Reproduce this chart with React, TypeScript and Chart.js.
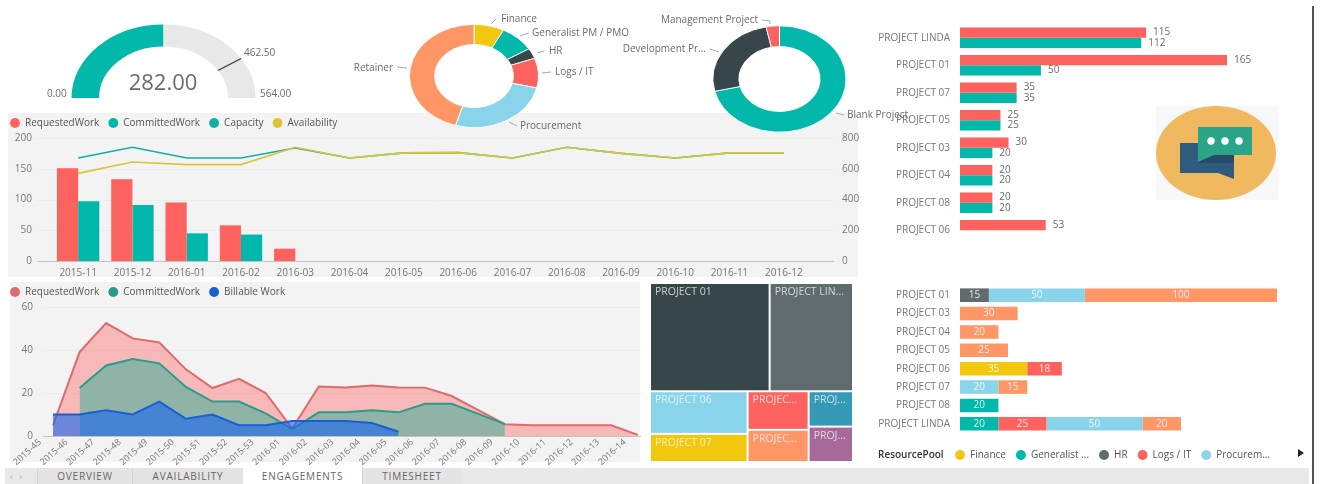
import React, { useEffect, useRef } from "react";
import { Chart, registerables } from "chart.js";

Chart.register(...registerables);
Chart.defaults.font.family = '"Open Sans", sans-serif';
Chart.defaults.font.size = 10;
Chart.defaults.color = "#777";

const TEAL = "#01B8AA";
const DARK = "#374649";
const RED = "#FD625E";
const YELLOW = "#F2C80F";
const GRAY = "#5F6B6D";
const SKY = "#8AD4EB";
const ORANGE = "#FE9666";
const PURPLE = "#A66999";
const BLUE = "#3599B8";

// gauge
const gaugeValue = 282;
const gaugeMax = 564;
const gaugeTarget = 462.5;

// resource pool donut
const poolNames = ["Finance", "Generalist PM / PMO", "HR", "Logs / IT", "Procurement", "Retainer"];
const poolValues = [35, 40, 15, 43, 120, 210];

// project type donut
const typeNames = ["Blank Project", "Development Pr...", "Management Project"];
const typeValues = [330, 118, 15];

// monthly combo chart
const months = ["2015-11", "2015-12", "2016-01", "2016-02", "2016-03", "2016-04", "2016-05", "2016-06", "2016-07", "2016-08", "2016-09", "2016-10", "2016-11", "2016-12"];
const monthRequested = [151, 133, 95, 58, 20, null, null, null, null, null, null, null, null, null];
const monthCommitted = [97, 91, 45, 43, null, null, null, null, null, null, null, null, null, null];
const monthCapacity = [670, 740, 670, 670, 735, 670, 703, 705, 670, 740, 700, 670, 703, 703];
const monthAvailability = [570, 644, 627, 627, 740, 670, 703, 705, 670, 740, 700, 670, 703, 703];

// weekly area chart
const weeks = ["2015-45", "2015-46", "2015-47", "2015-48", "2015-49", "2015-50", "2015-51", "2015-52", "2015-53", "2016-01", "2016-02", "2016-03", "2016-04", "2016-05", "2016-06", "2016-07", "2016-08", "2016-09", "2016-10", "2016-11", "2016-12", "2016-13", "2016-14"];
const weekRequested = [5, 39, 52.5, 45.4, 43.5, 31, 22.3, 26.6, 20, 3.5, 23, 22.6, 23.5, 22.6, 22.5, 18.6, 12, 5.5, 5, 5, 5, 5, 0.5];
const weekCommitted = [null, 22.3, 32.8, 35.8, 33.8, 22.8, 16, 16, 10.5, 3.2, 11, 11, 12, 11, 15, 15, 10.3, 5.5, null, null, null, null, null];
const weekBillable = [10, 10, 12, 10, 16, 8, 10, 5, 5, 7, 7, 7, 6, 2, null, null, null, null, null, null, null, null, null];

// treemap: rows > columns > tiles
const treeRows = [[[165], [115]], [[53, 35], [30, 25], [20, 20]]];
const treeLabels = ["PROJECT 01", "PROJECT LIN...", "PROJECT 06", "PROJECT 07", "PROJEC...", "PROJEC...", "PROJ...", "PROJ..."];
const treeColors = [DARK, GRAY, SKY, YELLOW, RED, ORANGE, BLUE, PURPLE];

// requested vs committed per project
const projectsA = ["PROJECT LINDA", "PROJECT 01", "PROJECT 07", "PROJECT 05", "PROJECT 03", "PROJECT 04", "PROJECT 08", "PROJECT 06"];
const projectRequested = [115, 165, 35, 25, 30, 20, 20, 53];
const projectCommitted = [112, 50, 35, 25, 20, 20, 20, null];

// resource pool per project
const projectsB = ["PROJECT 01", "PROJECT 03", "PROJECT 04", "PROJECT 05", "PROJECT 06", "PROJECT 07", "PROJECT 08", "PROJECT LINDA"];
const stackFinance = [null, null, null, null, 35, null, null, null];
const stackGeneralist = [null, null, null, null, null, null, 20, 20];
const stackHR = [15, null, null, null, null, null, null, null];
const stackLogs = [null, null, null, null, 18, null, null, 25];
const stackProcurement = [50, null, null, null, null, 20, null, 50];
const stackRetainer = [100, 30, 20, 25, null, 15, null, 20];

const tabs = ["OVERVIEW", "AVAILABILITY", "ENGAGEMENTS", "TIMESHEET"];

const SQUASH = 0.8;
const TEXT = "#6b6b6b";
const FONT = '"Open Sans", sans-serif';

type Label = { text: string; x: number; y: number; align?: CanvasTextAlign; size?: number; leader?: number[] };

const squashPlugin = (after?: (chart: any) => void) => ({
  id: "squash",
  beforeDatasetsDraw(chart: any) {
    const a = chart.getDatasetMeta(0).data[0];
    const c = chart.ctx;
    c.save();
    c.translate(a.x, a.y);
    c.scale(1, SQUASH);
    c.translate(-a.x, -a.y);
  },
  afterDatasetsDraw(chart: any) {
    if (after) after(chart);
    chart.ctx.restore();
  },
});

const textPlugin = (labels: Label[]) => ({
  id: "texts",
  afterDraw(chart: any) {
    const c = chart.ctx;
    c.save();
    c.textBaseline = "middle";
    for (const l of labels) {
      if (l.leader) {
        c.beginPath();
        c.strokeStyle = "#aaa";
        c.lineWidth = 1;
        for (let i = 0; i < l.leader.length; i += 2) {
          if (i === 0) c.moveTo(l.leader[0], l.leader[1]);
          else c.lineTo(l.leader[i], l.leader[i + 1]);
        }
        c.stroke();
      }
      c.fillStyle = TEXT;
      c.textAlign = l.align || "left";
      c.font = `${l.size || 10}px ${FONT}`;
      c.fillText(l.text, l.x, l.y);
    }
    c.restore();
  },
});

const gridPlugin = (scaleId: string, x0: number, x1: number) => ({
  id: "extGrid",
  beforeDatasetsDraw(chart: any) {
    const c = chart.ctx;
    const s = chart.scales[scaleId];
    c.save();
    s.ticks.forEach((t: any) => {
      const y = Math.round(s.getPixelForValue(t.value)) + 0.5;
      c.strokeStyle = t.value === 0 ? "#c4c4c4" : "#ececec";
      c.lineWidth = 1;
      c.beginPath();
      c.moveTo(x0, y);
      c.lineTo(x1, y);
      c.stroke();
    });
    c.restore();
  },
});

const barValuePlugin = {
  id: "barValues",
  afterDatasetsDraw(chart: any) {
    const c = chart.ctx;
    c.save();
    c.font = `10px ${FONT}`;
    c.textBaseline = "middle";
    c.textAlign = "left";
    c.fillStyle = TEXT;
    chart.data.datasets.forEach((d: any, i: number) => {
      chart.getDatasetMeta(i).data.forEach((b: any, j: number) => {
        if (d.data[j] != null) c.fillText(String(d.data[j]), b.x + 7, b.y);
      });
    });
    c.restore();
  },
};

const stackValuePlugin = {
  id: "stackValues",
  afterDatasetsDraw(chart: any) {
    const c = chart.ctx;
    c.save();
    c.font = `10px ${FONT}`;
    c.textBaseline = "middle";
    c.textAlign = "center";
    c.fillStyle = "rgba(255,255,255,0.85)";
    chart.data.datasets.forEach((d: any, i: number) => {
      chart.getDatasetMeta(i).data.forEach((b: any, j: number) => {
        if (d.data[j] != null) c.fillText(String(d.data[j]), (b.x + b.base) / 2, b.y);
      });
    });
    c.restore();
  },
};

const legendShiftPlugin = (left: number) => ({
  id: "legendShift",
  beforeDraw(chart: any) {
    chart.legend.left = left;
    chart.legend.right = chart.width;
  },
});

const treemapPlugin = {
  id: "treemap",
  afterDatasetsDraw(chart: any) {
    const c = chart.ctx;
    const { x, y } = chart.scales;
    const sum = (a: any[]): number => a.reduce((t, v) => t + (Array.isArray(v) ? sum(v) : v), 0);
    const total = sum(treeRows);
    let yAt = 0;
    let k = 0;
    c.save();
    c.textBaseline = "middle";
    c.font = `10.5px ${FONT}`;
    for (const row of treeRows) {
      const rowShare = sum(row) / total;
      let xAt = 0;
      for (const col of row) {
        const colShare = sum(col) / sum(row);
        let tileY = yAt;
        for (const v of col) {
          const h = rowShare * (v / sum(col));
          const px0 = x.getPixelForValue(xAt);
          const px1 = x.getPixelForValue(xAt + colShare);
          const py0 = y.getPixelForValue(tileY);
          const py1 = y.getPixelForValue(tileY + h);
          c.fillStyle = treeColors[k];
          c.fillRect(px0 + 1, py0 + 1, px1 - px0 - 2, py1 - py0 - 2);
          c.fillStyle = "rgba(255,255,255,0.72)";
          c.fillText(treeLabels[k], px0 + 5, py0 + 9);
          tileY += h;
          k++;
        }
        xAt += colShare;
      }
      yAt += rowShare;
    }
    c.restore();
  },
};

const noPlugins = { legend: { display: false }, tooltip: { enabled: false } };

const solidLegend = (boxPad: number) => ({
  align: "start" as const,
  labels: {
    usePointStyle: true,
    pointStyle: "circle",
    boxHeight: 7,
    padding: boxPad,
    color: "#555",
    font: { size: 10 },
    sort: (a: any, b: any) => a.datasetIndex - b.datasetIndex,
    generateLabels(chart: any) {
      return Chart.defaults.plugins.legend.labels.generateLabels(chart).map((i: any) => ({
        ...i,
        fillStyle: i.strokeStyle,
        lineWidth: 0,
        pointStyle: "circle",
      }));
    },
  },
});

function gaugeConfig(): any {
  const needle = (chart: any) => {
    const a = chart.getDatasetMeta(0).data[0];
    const angle = -Math.PI + Math.PI * (gaugeTarget / gaugeMax);
    const c = chart.ctx;
    c.strokeStyle = "#444";
    c.lineWidth = 1.5;
    c.beginPath();
    c.moveTo(a.x + a.innerRadius * Math.cos(angle), a.y + a.innerRadius * Math.sin(angle));
    c.lineTo(a.x + a.outerRadius * Math.cos(angle), a.y + a.outerRadius * Math.sin(angle));
    c.stroke();
  };
  return {
    type: "doughnut",
    data: {
      labels: ["Value", "Remaining"],
      datasets: [{ data: [gaugeValue, gaugeMax - gaugeValue], backgroundColor: [TEAL, "#E8E8E8"], borderWidth: 0 }],
    },
    options: {
      animation: false,
      responsive: false,
      rotation: -90,
      circumference: 180,
      cutout: "70%",
      layout: { padding: { left: 71.5, right: 1064.5, top: 6, bottom: 62 } },
      plugins: noPlugins,
    },
    plugins: [
      squashPlugin(needle),
      textPlugin([
        { text: "0.00", x: 47, y: 94 },
        { text: "564.00", x: 260, y: 94 },
        { text: "462.50", x: 244, y: 53 },
        { text: String(gaugeValue.toFixed(2)), x: 163, y: 84, align: "center", size: 22 },
      ]),
    ],
  };
}

function poolConfig(): any {
  return {
    type: "doughnut",
    data: {
      labels: poolNames,
      datasets: [{ data: poolValues, backgroundColor: [YELLOW, TEAL, DARK, RED, SKY, ORANGE], borderColor: "#fff", borderWidth: 1 }],
    },
    options: {
      animation: false,
      responsive: false,
      cutout: "61%",
      layout: { padding: { left: 409, right: 781, top: 11, bottom: 19 } },
      plugins: noPlugins,
    },
    plugins: [
      squashPlugin(),
      textPlugin([
        { text: poolNames[0], x: 501, y: 19, leader: [496, 19, 491, 24] },
        { text: poolNames[1], x: 532, y: 33, leader: [529, 33, 520, 36] },
        { text: poolNames[2], x: 549, y: 51, leader: [544, 51, 537, 53] },
        { text: poolNames[3], x: 555, y: 72, leader: [551, 72, 542, 73] },
        { text: poolNames[4], x: 520, y: 126, leader: [517, 126, 509, 122] },
        { text: poolNames[5], x: 393, y: 68, align: "right", leader: [407, 68, 397, 67] },
      ]),
    ],
  };
}

function typeConfig(): any {
  return {
    type: "doughnut",
    data: {
      labels: typeNames,
      datasets: [{ data: typeValues, backgroundColor: [TEAL, DARK, RED], borderColor: "#fff", borderWidth: 1 }],
    },
    options: {
      animation: false,
      responsive: false,
      cutout: "61%",
      layout: { padding: { left: 712.5, right: 473.5, top: 12, bottom: 14 } },
      plugins: noPlugins,
    },
    plugins: [
      squashPlugin(),
      textPlugin([
        { text: typeNames[0], x: 847, y: 115, leader: [836, 113, 844, 115] },
        { text: typeNames[1], x: 706, y: 49, align: "right", leader: [710, 49, 719, 52] },
        { text: typeNames[2], x: 758, y: 20, align: "right", leader: [762, 20, 770, 21, 770, 24] },
      ]),
    ],
  };
}

function comboConfig(): any {
  const bar = (label: string, data: any[], color: string) => ({ type: "bar", label, data, backgroundColor: color, borderColor: color, yAxisID: "y", order: 3, categoryPercentage: 0.78, barPercentage: 1 });
  const line = (label: string, data: any[], color: string, order: number) => ({ type: "line", label, data, borderColor: color, backgroundColor: color, borderWidth: 1.6, pointRadius: 0, tension: 0, yAxisID: "y1", order });
  return {
    type: "bar",
    data: {
      labels: months,
      datasets: [
        bar("RequestedWork", monthRequested, RED),
        bar("CommittedWork", monthCommitted, TEAL),
        line("Capacity", monthCapacity, "#12B0A0", 2),
        line("Availability", monthAvailability, "#DCC436", 1),
      ],
    },
    options: {
      animation: false,
      responsive: false,
      plugins: { legend: solidLegend(9), tooltip: { enabled: false } },
      scales: {
        x: {
          grid: { display: false, drawTicks: false },
          border: { display: false },
          ticks: { padding: 6, autoSkip: false, maxRotation: 0 },
          afterFit: (s: any) => { s.height = 17; },
        },
        y: {
          min: 0, max: 200,
          grid: { display: false, drawTicks: false },
          border: { display: false },
          ticks: { stepSize: 50, padding: 19 },
          afterFit: (s: any) => { s.width = 50; },
        },
        y1: {
          position: "right", min: 0, max: 800,
          grid: { display: false, drawTicks: false },
          border: { display: false },
          ticks: { stepSize: 200, padding: 31 },
          afterFit: (s: any) => { s.width = 49; },
        },
      },
    },
    plugins: [gridPlugin("y", 36, 833)],
  };
}

function areaConfig(): any {
  const area = (label: string, data: any[], line: string, fill: string, order: number) => ({ label, data, borderColor: line, backgroundColor: fill, fill: "origin", borderWidth: 2, pointRadius: 0, tension: 0, order });
  return {
    type: "line",
    data: {
      labels: weeks,
      datasets: [
        area("RequestedWork", weekRequested, "#DE6A6C", "rgba(253,98,94,0.4)", 3),
        area("CommittedWork", weekCommitted, "#2A9D8A", "rgba(40,175,150,0.5)", 2),
        area("Billable Work", weekBillable, "#1A5FD0", "rgba(20,100,240,0.6)", 1),
      ],
    },
    options: {
      animation: false,
      responsive: false,
      plugins: { legend: solidLegend(9), tooltip: { enabled: false } },
      scales: {
        x: {
          offset: false,
          grid: { display: false, drawTicks: false },
          border: { display: false },
          ticks: { padding: 1, autoSkip: false, minRotation: 42, maxRotation: 42, labelOffset: -13, font: { size: 9 } },
          afterFit: (s: any) => { s.height = 34; },
        },
        y: {
          min: 0, max: 60,
          grid: { display: false, drawTicks: false },
          border: { display: false },
          ticks: { stepSize: 20, padding: 20 },
          afterFit: (s: any) => { s.width = 52; },
        },
      },
    },
    plugins: [gridPlugin("y", 42, 640)],
  };
}

function treemapConfig(): any {
  return {
    type: "scatter",
    data: { datasets: [{ data: treeLabels.map(() => ({ x: 0, y: 0 })), pointRadius: 0 }] },
    options: {
      animation: false,
      responsive: false,
      plugins: noPlugins,
      scales: {
        x: { display: false, min: 0, max: 1 },
        y: { display: false, min: 0, max: 1, reverse: true },
      },
    },
    plugins: [treemapPlugin],
  };
}

function projectBarsConfig(): any {
  return {
    type: "bar",
    data: {
      labels: projectsA,
      datasets: [
        { label: "RequestedWork", data: projectRequested, backgroundColor: RED, categoryPercentage: 0.754, barPercentage: 1 },
        { label: "CommittedWork", data: projectCommitted, backgroundColor: TEAL, categoryPercentage: 0.754, barPercentage: 1 },
      ],
    },
    options: {
      indexAxis: "y",
      animation: false,
      responsive: false,
      layout: { padding: { top: 24, bottom: 2.5, right: 83 } },
      plugins: noPlugins,
      scales: {
        x: { display: false, min: 0, max: 165 },
        y: {
          grid: { display: false, drawTicks: false },
          border: { display: false },
          ticks: { padding: 10, autoSkip: false },
          afterFit: (s: any) => { s.width = 100; },
        },
      },
    },
    plugins: [barValuePlugin],
  };
}

function stackConfig(): any {
  const ds = (label: string, data: any[], color: string) => ({ label, data, backgroundColor: color, borderColor: color, stack: "s", categoryPercentage: 0.74, barPercentage: 1 });
  return {
    type: "bar",
    data: {
      labels: projectsB,
      datasets: [
        ds("Finance", stackFinance, YELLOW),
        ds("Generalist ...", stackGeneralist, TEAL),
        ds("HR", stackHR, GRAY),
        ds("Logs / IT", stackLogs, RED),
        ds("Procurem...", stackProcurement, SKY),
        ds("Retainer", stackRetainer, ORANGE),
      ],
    },
    options: {
      indexAxis: "y",
      animation: false,
      responsive: false,
      layout: { padding: { right: 23, top: 4.2 } },
      plugins: {
        tooltip: { enabled: false },
        legend: {
          position: "bottom",
          align: "start",
          labels: {
            ...solidLegend(10).labels,
            filter: (i: any) => i.text !== "Retainer",
          },
        },
      },
      scales: {
        x: {
          stacked: true, min: 0, max: 165,
          grid: { display: false, drawTicks: false },
          border: { display: false },
          ticks: { display: false },
          afterFit: (s: any) => { s.height = 7; },
        },
        y: {
          stacked: true,
          grid: { display: false, drawTicks: false },
          border: { display: false },
          ticks: { padding: 10, autoSkip: false },
          afterFit: (s: any) => { s.width = 100; },
        },
      },
    },
    plugins: [stackValuePlugin, legendShiftPlugin(85)],
  };
}

function ChartBox({ left, top, width, height, make }: { left: number; top: number; width: number; height: number; make: () => any }) {
  const ref = useRef<HTMLCanvasElement>(null);
  useEffect(() => {
    const chart = new Chart(ref.current as any, make());
    return () => chart.destroy();
  }, []);
  return <canvas ref={ref} width={width} height={height} style={{ position: "absolute", left, top, width, height, display: "block" }} />;
}

const box = (left: number, top: number, width: number, height: number, background: string): React.CSSProperties => ({ position: "absolute", left, top, width, height, background });

const tabBounds = [37, 132, 243, 362, 461];

export default function App() {
  return (
    <div style={{ position: "absolute", left: 0, top: 0, width: 1320, height: 484, overflow: "hidden", background: "#fff", fontFamily: FONT, filter: "blur(0.5px)" }}>
      <div style={box(8, 113, 850, 164, "#F3F3F3")} />
      <div style={box(10, 282, 630, 180, "#F3F3F3")} />

      <ChartBox left={1} top={101} width={859} height={197} make={comboConfig} />
      <ChartBox left={1} top={278} width={645} height={192} make={areaConfig} />
      <ChartBox left={650} top={283} width={203} height={179} make={treemapConfig} />

      <svg style={{ position: "absolute", left: 1150, top: 100, width: 135, height: 108 }} viewBox="1150 100 135 108">
        <rect x="1156" y="106" width="122" height="94" fill="#F8F8F8" />
        <ellipse cx="1216" cy="153" rx="60" ry="47" fill="#F0B95F" />
        <polygon points="1180,143 1234,143 1234,179 1218,173 1180,173" fill="#2F5B7E" />
        <polygon points="1198,155 1234,155 1234,163 1198,163" fill="#264A68" />
        <polygon points="1198,127 1252,127 1252,155 1214,155 1198,162" fill="#2AA58A" />
        <circle cx="1211" cy="141" r="3.7" fill="#fff" />
        <circle cx="1225" cy="141" r="3.7" fill="#fff" />
        <circle cx="1239" cy="141" r="3.7" fill="#fff" />
      </svg>

      <ChartBox left={860} top={0} width={450} height={260} make={projectBarsConfig} />
      <ChartBox left={860} top={270} width={440} height={200} make={stackConfig} />
      <ChartBox left={0} top={0} width={1320} height={160} make={gaugeConfig} />
      <ChartBox left={0} top={0} width={1320} height={160} make={poolConfig} />
      <ChartBox left={0} top={0} width={1320} height={160} make={typeConfig} />

      <div style={{ position: "absolute", left: 878, top: 447, fontSize: 10, fontWeight: 600, color: "#333", lineHeight: "14px" }}>ResourcePool</div>
      <div style={{ position: "absolute", left: 1298, top: 449, width: 0, height: 0, borderTop: "4px solid transparent", borderBottom: "4px solid transparent", borderLeft: "6px solid #222" }} />

      <div style={box(5, 468, 1304, 16, "#E9E9E9")} />
      <div style={{ position: "absolute", left: 10, top: 468, width: 25, lineHeight: "16px", fontSize: 10, color: "#bbb", letterSpacing: 6 }}>‹›</div>
      {tabs.map((t, i) => {
        const active = i === 2;
        return (
          <div key={t} style={{ position: "absolute", left: tabBounds[i], top: 468, width: tabBounds[i + 1] - tabBounds[i], height: 16, lineHeight: "16px", textAlign: "center", fontSize: 10, letterSpacing: 0.8, color: "#666", background: active ? "#fff" : "#E4E4E4", borderLeft: active ? "none" : "1px solid #d2d2d2", boxSizing: "border-box" }}>{t}</div>
        );
      })}
      <div style={box(1312, 6, 2, 478, "#555")} />
    </div>
  );
}
